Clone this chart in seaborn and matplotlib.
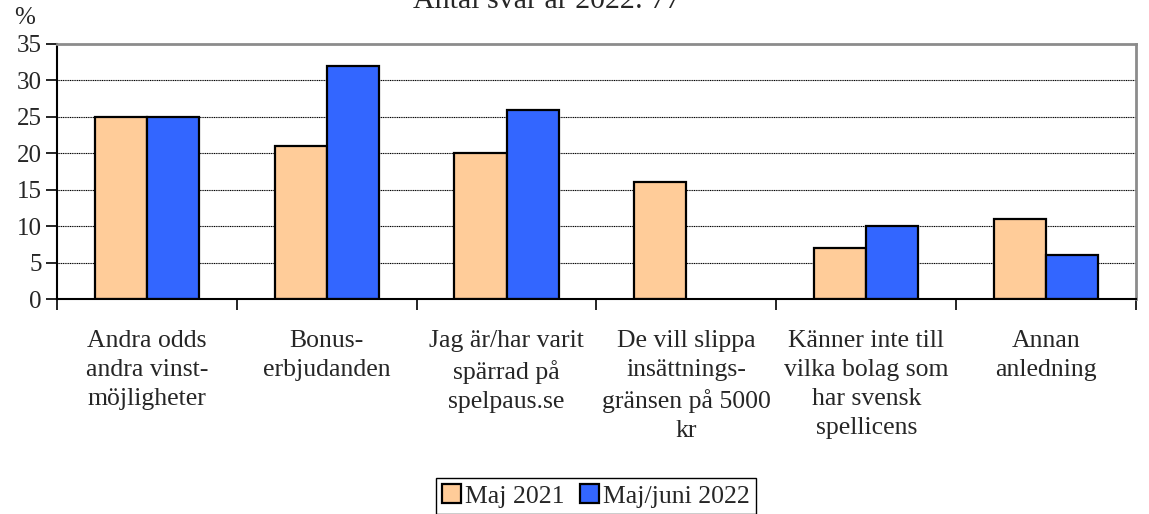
import numpy as np
import pandas as pd
import matplotlib
matplotlib.use("Agg")
import matplotlib.pyplot as plt
import seaborn as sns

# Data
categories = [
    "Andra odds\nandra vinst-\nmöjligheter",
    "Bonus-\nerbjudanden",
    "Jag är/har varit\nspärrad på\nspelpaus.se",
    "De vill slippa\ninsättnings-\ngränsen på 5000\nkr",
    "Känner inte till\nvilka bolag som\nhar svensk\nspellicens",
    "Annan\nanledning",
]
maj_2021 = [25, 21, 20, 16, 7, 11]
maj_juni_2022 = [25, 32, 26, np.nan, 10, 6]
series_names = ["Maj 2021", "Maj/juni 2022"]
y_ticks = [0, 5, 10, 15, 20, 25, 30, 35]

sns.set_style("white")
plt.rcParams["font.family"] = ["Liberation Serif", "DejaVu Serif"]

df = pd.DataFrame({
    "kategori": categories * 2,
    "serie": [series_names[0]] * 6 + [series_names[1]] * 6,
    "procent": maj_2021 + maj_juni_2022,
})

fig = plt.figure(figsize=(11.49, 5.14), dpi=100)
ax = fig.add_axes([57 / 1149, 1 - 299 / 514, (1136 - 57) / 1149, (299 - 44) / 514])

sns.barplot(data=df, x="kategori", y="procent", hue="serie",
            palette=["#FFCC99", "#3366FF"], width=0.58,
            edgecolor="black", linewidth=1.6, saturation=1,
            ax=ax, legend=False)

ax.set_xlim(-0.5, 5.5)
ax.set_ylim(0, 35)
ax.set_yticks(y_ticks)
ax.set_yticklabels([str(t) for t in y_ticks], fontsize=18)
ax.set_xlabel("")
ax.set_ylabel("")

# grid at each tick
for t in y_ticks[1:-1]:
    ax.axhline(t, color="black", linewidth=0.8, linestyle=(0, (1, 0.6)), zorder=0)

ax.tick_params(axis="y", direction="out", length=8, width=1.2, color="black", pad=3, left=True)
ax.set_xticks(range(6))
ax.set_xticklabels(categories, fontsize=18.5, linespacing=1.43, va="top")
ax.tick_params(axis="x", length=0, pad=22)
ax.set_xticks(np.arange(-0.5, 6, 1), minor=True)
ax.tick_params(axis="x", which="minor", direction="out", length=8, width=1.2, color="black", bottom=True)

for side in ["top", "right"]:
    ax.spines[side].set_color("#8c8c8c")
    ax.spines[side].set_linewidth(2)
for side in ["left", "bottom"]:
    ax.spines[side].set_color("black")
    ax.spines[side].set_linewidth(1.5)

fig.text(25 / 1149, 1 - 24 / 514, "%", fontsize=18, ha="center", va="baseline")
fig.text(547 / 1149, 1 - 8 / 514, "Antal svar år 2022: 77", fontsize=21.5,
         ha="center", va="baseline")

handles = [plt.Rectangle((0, 0), 1, 1, facecolor=c, edgecolor="black", linewidth=1.6)
           for c in ["#FFCC99", "#3366FF"]]
leg = fig.legend(handles, series_names, loc="upper center",
                 bbox_to_anchor=(596 / 1149, 1 - 478 / 514), ncol=2,
                 fontsize=18.5, frameon=True, fancybox=False, framealpha=1,
                 edgecolor="black", handlelength=0.75, handleheight=0.75,
                 handletextpad=0.15, columnspacing=0.6, borderpad=0.25,
                 borderaxespad=0)
leg.get_frame().set_linewidth(1.0)

fig.savefig("out.png", dpi=100)
